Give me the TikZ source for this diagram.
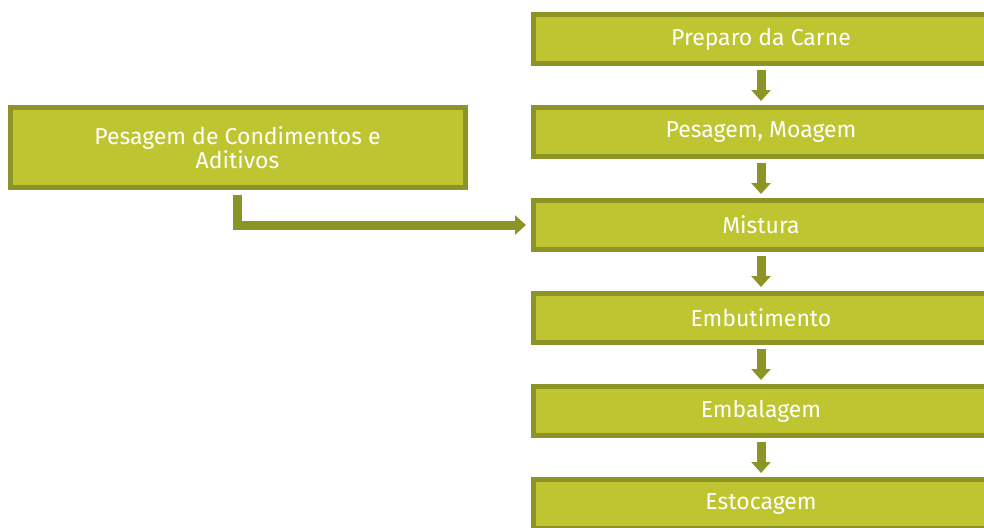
\documentclass[tikz,border=0pt]{standalone}
\usepackage{fontspec}
\setmainfont{Fira Sans}
\usetikzlibrary{positioning,arrows.meta}
\definecolor{boxfill}{HTML}{BFC530}
\definecolor{boxline}{HTML}{8C9425}
\tikzset{
  stepbox/.style={draw=boxline, fill=boxfill, line width=5pt,
    minimum width=455pt, minimum height=49pt, inner sep=0pt,
    text=white, font=\fontsize{23}{24}\selectfont, align=center},
  flow/.style={draw=boxline, line width=9pt,
    -{Triangle[width=19pt,length=11pt]}}
}
\begin{document}
\begin{tikzpicture}
	\useasboundingbox (0,0) rectangle (984pt,-527pt);
	
	\node[stepbox] (prep) at (761pt,-39pt) {Preparo da Carne};
	\node[stepbox, below=39pt of prep] (moag) {Pesagem, Moagem};
	\node[stepbox, below=39pt of moag] (mist) {Mistura};
	\node[stepbox, below=39pt of mist] (embu) {Embutimento};
	\node[stepbox, below=39pt of embu] (emba) {Embalagem};
	\node[stepbox, below=39pt of emba] (esto) {Estocagem};
	
	\node[stepbox, minimum height=80pt] (cond) at (237.5pt,-147.5pt)
		{Pesagem de Condimentos e\\Aditivos};
	
	\foreach \a/\b in {prep/moag,moag/mist,mist/embu,embu/emba,emba/esto}
		\draw[flow] ([yshift=-4pt]\a.south) -- ([yshift=4pt]\b.north);
	
	\draw[flow] ([yshift=-5pt]cond.south) |- ([xshift=-5pt]mist.west);
\end{tikzpicture}
\end{document}
